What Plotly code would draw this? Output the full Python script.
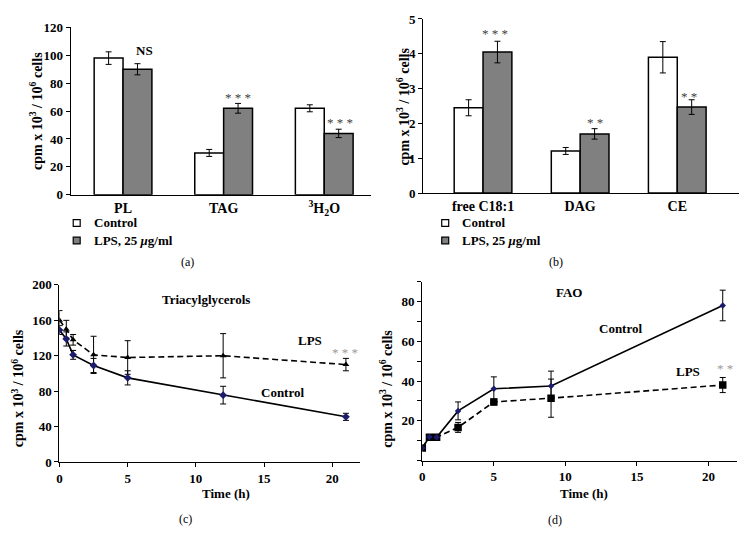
import plotly.graph_objects as go

W, H = 746, 551

# ---------------- data ----------------
cats_a = ["PL", "TAG", "<sup>3</sup>H<sub>2</sub>O"]
ctrl_a = [98, 30, 62]
ctrl_a_err = [4.5, 2.5, 2.5]
lps_a = [90, 62, 44]
lps_a_err = [4, 3.5, 3]

cats_b = ["free C18:1", "DAG", "CE"]
ctrl_b = [2.45, 1.21, 3.9]
ctrl_b_err = [0.23, 0.1, 0.45]
lps_b = [4.05, 1.7, 2.47]
lps_b_err = [0.31, 0.15, 0.21]

t_c = [0, 0.5, 1, 2.5, 5, 12, 21]
ctrl_c = [149, 139, 121, 109, 95, 75.5, 51]
ctrl_c_err = [5, 8, 5, 8, 8, 10, 4]
lps_c = [160, 150, 138, 121, 118, 120, 110]
lps_c_err = [11, 10, 6, 21, 19, 25, 7]

t_d = [0, 0.5, 1, 2.5, 5, 9, 21]
ctrl_d = [6.3, 11.9, 11.7, 25, 36.1, 37.5, 78]
ctrl_d_err = [1, 1, 1, 4.5, 6, 7.5, 7.7]
lps_d = [6.3, 11.8, 11.8, 16.7, 29.5, 31.4, 38]
lps_d_err = [1, 1, 1, 2.5, 1.5, 9.6, 3.8]

# ---------------- helpers ----------------
def px(x):
    return x / W

def py(y):
    return 1 - y / H

FONT = "Liberation Serif"
GRAY = "#808080"
NAVY = "#1c1c6e"
DASH = "6px,3.5px"

fig = go.Figure()

err_style = dict(type="data", color="black", thickness=1, width=3, visible=True)

# (a) bars
wa = 0.287
fig.add_trace(go.Bar(x=cats_a, y=ctrl_a, width=wa, offset=-wa,
                     marker=dict(color="white", line=dict(color="black", width=1.5)),
                     error_y=dict(array=ctrl_a_err, **err_style),
                     xaxis="x", yaxis="y", showlegend=False))
fig.add_trace(go.Bar(x=cats_a, y=lps_a, width=wa, offset=0,
                     marker=dict(color=GRAY, line=dict(color="black", width=1.5)),
                     error_y=dict(array=lps_a_err, **err_style),
                     xaxis="x", yaxis="y", showlegend=False))

# (b) bars
wb = 0.297
fig.add_trace(go.Bar(x=cats_b, y=ctrl_b, width=wb, offset=-wb,
                     marker=dict(color="white", line=dict(color="black", width=1.5)),
                     error_y=dict(array=ctrl_b_err, **err_style),
                     xaxis="x2", yaxis="y2", showlegend=False))
fig.add_trace(go.Bar(x=cats_b, y=lps_b, width=wb, offset=0,
                     marker=dict(color=GRAY, line=dict(color="black", width=1.5)),
                     error_y=dict(array=lps_b_err, **err_style),
                     xaxis="x2", yaxis="y2", showlegend=False))

# (c) lines
fig.add_trace(go.Scatter(x=t_c, y=lps_c, mode="lines+markers",
                         line=dict(color="black", width=1.6, dash=DASH),
                         marker=dict(symbol="triangle-up", size=6, color="black"),
                         error_y=dict(array=lps_c_err, **err_style),
                         xaxis="x3", yaxis="y3", showlegend=False))
fig.add_trace(go.Scatter(x=t_c, y=ctrl_c, mode="lines+markers",
                         line=dict(color="black", width=1.6),
                         marker=dict(symbol="diamond", size=6, color=NAVY),
                         error_y=dict(array=ctrl_c_err, **err_style),
                         xaxis="x3", yaxis="y3", showlegend=False))

# (d) lines
fig.add_trace(go.Scatter(x=t_d, y=lps_d, mode="lines+markers",
                         line=dict(color="black", width=1.6, dash=DASH),
                         marker=dict(symbol="square", size=7.5, color="black"),
                         error_y=dict(array=lps_d_err, **err_style),
                         xaxis="x4", yaxis="y4", showlegend=False))
fig.add_trace(go.Scatter(x=t_d, y=ctrl_d, mode="lines+markers",
                         line=dict(color="black", width=1.6),
                         marker=dict(symbol="diamond", size=5, color=NAVY),
                         error_y=dict(array=ctrl_d_err, **err_style),
                         xaxis="x4", yaxis="y4", showlegend=False))

tickfont = dict(family=FONT, size=13, color="black", weight="bold")
axis_common = dict(showgrid=False, zeroline=False, showline=True, linecolor="black",
                   linewidth=1.3, tickfont=tickfont, fixedrange=True)
cat_axis = {k: v for k, v in axis_common.items() if k != "tickfont"}
catfont = dict(family=FONT, size=14, color="black", weight="bold")

fig.update_layout(
    width=W, height=H,
    margin=dict(l=0, r=0, t=0, b=0, pad=0),
    paper_bgcolor="white", plot_bgcolor="white",
    barmode="overlay",
    showlegend=False,
    xaxis=dict(domain=[px(68), px(369)], range=[-0.52, 2.46], anchor="y",
               ticks="", tickfont=catfont, **cat_axis),
    yaxis=dict(domain=[py(193), py(21)], range=[0, 120], anchor="x",
               tickvals=[0, 20, 40, 60, 80, 100, 120], ticks="outside", ticklen=4,
               tickcolor="black", **axis_common),
    xaxis2=dict(domain=[px(422), px(739)], range=[-0.615, 2.636], anchor="y2",
                ticks="", tickfont=catfont, **cat_axis),
    yaxis2=dict(domain=[py(191.3), py(12.3)], range=[0, 5], anchor="x2",
                tickvals=[0, 1, 2, 3, 4, 5], ticks="outside", ticklen=4,
                tickcolor="black", **axis_common),
    xaxis3=dict(domain=[px(56.7), px(358)], range=[0, 22], anchor="y3",
                tickvals=[0, 5, 10, 15, 20], ticks="outside", ticklen=4,
                tickcolor="black", **axis_common),
    yaxis3=dict(domain=[py(467.7), py(285.7)], range=[0, 200], anchor="x3",
                tickvals=[0, 40, 80, 120, 160, 200], ticks="outside", ticklen=4,
                tickcolor="black", **axis_common),
    xaxis4=dict(domain=[px(421), px(737)], range=[0, 22], anchor="y4",
                tickvals=[0, 5, 10, 15, 20], ticks="outside", ticklen=4,
                tickcolor="black", **axis_common),
    yaxis4=dict(domain=[py(466.3), py(282.3)], range=[0, 90], anchor="x4",
                tickvals=[20, 40, 60, 80],
                ticks="outside", ticklen=4, tickcolor="black",
                minor=dict(tickvals=[0, 10, 30, 50, 70, 90], ticks="outside",
                           ticklen=4, tickcolor="black"),
                **axis_common),
)

annotations = []

def txt(x, y, text, size=13, bold=True, color="black", angle=0, xanchor="center"):
    annotations.append(dict(
        x=px(x), y=py(y), xref="paper", yref="paper", text=text, showarrow=False,
        xanchor=xanchor, yanchor="middle", textangle=angle,
        font=dict(family=FONT, size=size, color=color, weight="bold" if bold else "normal")))

ytitle = "cpm x 10<sup>3</sup> / 10<sup>6</sup> cells"
txt(33, 107, ytitle, size=14, angle=-90)
txt(402, 102, ytitle, size=14, angle=-90)
txt(15, 392, ytitle, size=14, angle=-90)
txt(385, 392, ytitle, size=14, angle=-90)

# significance marks
DARK = "#404040"
LIGHT = "#9a9a9a"
txt(142, 45, "NS")
txt(236, 93, "* * *", size=13, bold=False, color=DARK)
txt(338, 119, "* * *", size=13, bold=False, color=DARK)
txt(494, 27, "* * *", size=13, bold=False, color=DARK)
txt(594, 119, "* *", size=13, bold=False, color=DARK)
txt(689, 92, "* *", size=13, bold=False, color=DARK)

# legends
txt(89, 222, "Control", xanchor="left")
txt(89, 240, "LPS, 25 <i>μ</i>g/ml", xanchor="left")
txt(459, 222, "Control", xanchor="left")
txt(459, 240, "LPS, 25 <i>μ</i>g/ml", xanchor="left")

# panel (c) labels
txt(204, 301, "Triacylglycerols")
txt(308, 343, "LPS")
txt(343, 355, "* * *", size=13, bold=False, color=LIGHT)
txt(281, 396, "Control")
txt(224, 500, "Time (h)")

# panel (d) labels
txt(568, 294, "FAO")
txt(620, 331, "Control")
txt(688, 375, "LPS")
txt(725, 372, "* *", size=13, bold=False, color=LIGHT)
txt(583, 500, "Time (h)")

# captions
txt(185, 262, "(a)", size=12, bold=False)
txt(555, 262, "(b)", size=12, bold=False)
txt(183, 526, "(c)", size=12, bold=False)
txt(554, 527, "(d)", size=12, bold=False)

fig.update_layout(annotations=annotations)

# legend squares
shapes = []
for (cx, cy, col) in [(74, 222, "white"), (74, 240, GRAY), (444, 222, "white"), (444, 240, GRAY)]:
    shapes.append(dict(type="rect", xref="paper", yref="paper",
                       x0=px(cx - 3.5), x1=px(cx + 3.5), y0=py(cy + 3.5), y1=py(cy - 3.5),
                       line=dict(color="black", width=1.2), fillcolor=col))
fig.update_layout(shapes=shapes)

fig.write_html("out.html",
               config={"displayModeBar": False},
               post_script="document.body.style.margin='0';document.body.style.overflow='hidden';")
